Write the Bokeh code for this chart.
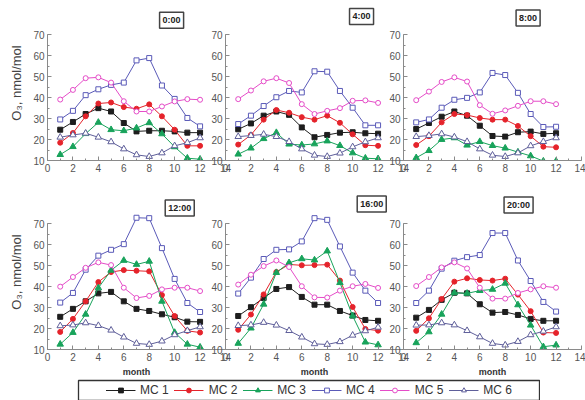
from bokeh.plotting import figure
from bokeh.layouts import row, column
from bokeh.models import Range1d, SingleIntervalTicker, Label, Legend, LegendItem, ColumnDataSource
from bokeh.embed import file_html
from bokeh.resources import INLINE

months = list(range(1, 13))
hours = ["0:00", "4:00", "8:00", "12:00", "16:00", "20:00"]
series_names = ["MC 1", "MC 2", "MC 3", "MC 4", "MC 5", "MC 6"]

# one row per hour panel (0:00, 4:00, 8:00, 12:00, 16:00, 20:00), months 1..12
mc1 = [
    [24.7, 28.4, 32.2, 35.0, 33.4, 27.9, 23.9, 24.2, 24.2, 23.9, 23.3, 23.3],
    [24.9, 27.7, 31.4, 33.4, 31.8, 25.8, 21.1, 22.2, 23.3, 23.5, 23.0, 22.8],
    [25.0, 27.9, 30.9, 33.4, 31.4, 26.6, 21.7, 21.4, 23.5, 23.8, 22.7, 23.0],
    [25.6, 29.4, 33.0, 36.8, 37.5, 33.0, 29.4, 28.4, 26.8, 25.4, 23.3, 23.2],
    [26.0, 30.2, 34.6, 38.9, 39.8, 35.1, 31.4, 31.4, 28.4, 26.2, 24.1, 23.7],
    [25.2, 28.9, 33.7, 37.1, 36.8, 31.6, 27.6, 27.9, 26.5, 24.6, 23.7, 23.7],
]
mc2 = [
    [18.5, 23.1, 31.1, 37.2, 37.7, 35.5, 34.7, 36.8, 31.1, 24.7, 17.0, 17.0],
    [17.6, 22.2, 29.5, 34.1, 32.8, 30.7, 29.5, 31.4, 28.0, 22.5, 17.3, 17.0],
    [17.4, 21.6, 28.2, 32.2, 31.7, 30.3, 29.5, 29.5, 26.5, 21.6, 16.6, 16.3],
    [18.4, 24.6, 33.0, 42.2, 47.0, 47.9, 47.6, 47.3, 36.0, 26.0, 18.9, 18.1],
    [19.4, 26.7, 36.3, 47.0, 50.6, 50.2, 50.3, 50.5, 42.9, 30.3, 19.8, 19.0],
    [18.9, 24.9, 34.1, 42.4, 44.0, 43.2, 42.9, 43.8, 36.2, 28.3, 18.1, 17.9],
]
mc3 = [
    [12.8, 16.6, 22.8, 28.2, 24.7, 24.2, 25.5, 28.0, 22.7, 16.5, 11.1, 10.6],
    [13.0, 15.9, 20.4, 23.3, 17.8, 17.4, 17.9, 19.3, 17.1, 13.6, 11.1, 10.8],
    [11.3, 14.7, 20.0, 20.8, 17.3, 19.0, 17.1, 15.9, 14.0, 12.2, 9.7, 9.7],
    [12.5, 18.1, 26.8, 39.4, 47.8, 52.5, 50.6, 52.1, 33.0, 18.1, 12.5, 11.1],
    [12.9, 20.2, 31.6, 46.7, 51.4, 53.3, 52.7, 57.0, 41.9, 26.0, 13.5, 12.2],
    [13.2, 18.4, 26.8, 37.1, 36.8, 38.1, 38.7, 41.6, 31.3, 21.6, 11.3, 12.1],
]
mc4 = [
    [29.6, 33.7, 41.2, 44.0, 46.1, 47.2, 57.8, 58.9, 45.8, 39.4, 30.3, 26.3],
    [27.4, 31.4, 36.0, 40.2, 43.2, 42.5, 52.6, 52.4, 43.2, 35.2, 26.8, 26.8],
    [28.2, 29.6, 35.2, 39.0, 39.9, 42.5, 51.8, 50.8, 42.3, 32.2, 26.0, 26.1],
    [32.4, 37.0, 48.1, 54.8, 57.6, 60.3, 72.9, 72.7, 58.4, 43.7, 32.2, 27.9],
    [36.7, 44.3, 53.2, 57.6, 57.8, 61.6, 72.7, 71.9, 59.2, 46.7, 38.1, 32.2],
    [32.2, 38.1, 48.6, 52.4, 54.1, 55.1, 65.6, 65.6, 52.5, 42.7, 32.7, 28.1],
]
mc5 = [
    [39.1, 43.7, 49.3, 49.7, 47.2, 38.3, 33.4, 33.4, 35.8, 38.2, 39.3, 39.0],
    [39.3, 43.4, 47.8, 49.3, 47.0, 36.9, 32.2, 33.7, 35.0, 38.5, 38.7, 37.5],
    [38.8, 42.9, 47.5, 49.7, 47.7, 36.4, 32.3, 33.9, 36.1, 38.3, 38.3, 36.9],
    [40.0, 44.6, 49.0, 51.6, 50.3, 39.5, 34.6, 35.6, 38.7, 39.5, 39.5, 37.9],
    [41.0, 45.7, 49.8, 52.5, 49.4, 40.2, 34.9, 34.8, 38.1, 40.2, 41.3, 39.4],
    [40.3, 44.6, 49.2, 51.6, 48.7, 39.5, 34.3, 34.3, 37.0, 38.7, 40.2, 39.5],
]
mc6 = [
    [21.1, 22.2, 23.0, 21.1, 18.9, 15.5, 12.7, 11.9, 13.6, 17.0, 18.5, 20.8],
    [21.4, 21.9, 22.5, 21.4, 19.0, 15.5, 12.5, 11.9, 13.5, 16.5, 18.9, 20.8],
    [21.4, 21.9, 22.7, 21.2, 19.0, 15.5, 12.5, 11.9, 13.6, 17.0, 19.0, 20.8],
    [21.3, 21.7, 22.7, 21.4, 19.2, 15.9, 12.9, 12.4, 14.0, 17.0, 19.0, 20.8],
    [21.4, 21.7, 22.9, 21.6, 19.0, 15.9, 12.7, 12.4, 13.7, 16.8, 18.9, 20.6],
    [21.6, 21.7, 22.7, 21.7, 19.0, 16.0, 12.9, 12.1, 13.8, 17.0, 18.7, 20.8],
]

all_series = [mc1, mc2, mc3, mc4, mc5, mc6]
colors = ["#1e1e1e", "#e5232b", "#18a35b", "#5a5ab8", "#e54cc8", "#5f5f9a"]
markers = ["square", "circle", "triangle", "square", "circle", "triangle"]
fills = [True, True, True, False, False, False]
msizes = [5, 5, 6.5, 5, 5, 6.5]

FONT = "Liberation Sans"
AX = "#8a8a8a"

# title label placement (data coords) for each panel
title_pos = [(9.76, 77.0), (10.7, 78.8), (9.8, 78.0), (10.4, 77.6), (11.5, 79.5), (9.05, 79.0)]

legend_sources = []


def make_panel(k):
    rr, cc = divmod(k, 3)
    left = 47 if cc == 0 else 25
    right = 4 if cc == 2 else 8
    top = 5 if rr == 0 else 11
    bottom = 23 if rr == 0 else 29
    p = figure(frame_width=178, frame_height=155,
               x_range=Range1d(0, 14), y_range=Range1d(10, 84),
               min_border_left=left, min_border_right=right,
               min_border_top=top, min_border_bottom=bottom,
               output_backend="svg", toolbar_location=None, title=None,
               outline_line_color=None, border_fill_color=None,
               background_fill_color=None)
    p.grid.visible = False
    p.xaxis.ticker = SingleIntervalTicker(interval=2, num_minor_ticks=2)
    p.yaxis.ticker = SingleIntervalTicker(interval=10, num_minor_ticks=2)
    p.yaxis.bounds = (10, 70)
    for ax in (p.xaxis[0], p.yaxis[0]):
        ax.axis_line_color = AX
        ax.major_tick_line_color = AX
        ax.minor_tick_line_color = AX
        ax.major_tick_in = 4
        ax.major_tick_out = 0
        ax.minor_tick_in = 2
        ax.minor_tick_out = 0
        ax.major_label_text_color = "#555555"
        ax.major_label_text_font = FONT
        ax.major_label_text_font_size = "10px"
        ax.major_label_standoff = 3
    if cc == 0:
        p.yaxis.axis_label = "O\u2083, nmol/mol"
        p.yaxis.axis_label_text_font = FONT
        p.yaxis.axis_label_text_font_size = "13px"
        p.yaxis.axis_label_text_font_style = "normal"
        p.yaxis.axis_label_text_color = "#444444"
        p.yaxis.axis_label_standoff = 6
    if rr == 1:
        p.xaxis.axis_label = "month"
        p.xaxis.axis_label_text_font = FONT
        p.xaxis.axis_label_text_font_size = "9px"
        p.xaxis.axis_label_text_font_style = "bold"
        p.xaxis.axis_label_text_color = "#333333"
        p.xaxis.axis_label_standoff = 3

    for s, series in enumerate(all_series):
        src = ColumnDataSource(dict(x=months, y=series[k]))
        if k == 0:
            legend_sources.append(src)
        p.line("x", "y", source=src, line_color=colors[s], line_width=1)
        p.scatter("x", "y", source=src, marker=markers[s], size=msizes[s],
                  line_color=colors[s], line_width=1,
                  fill_color=colors[s] if fills[s] else "white")

    tx, ty = title_pos[k]
    p.add_layout(Label(x=tx, y=ty, text=hours[k], text_align="center",
                       text_baseline="middle", text_font=FONT,
                       text_font_size="9px", text_font_style="bold",
                       text_color="#222222", border_line_color="#444444",
                       border_line_width=1.5, background_fill_color="white",
                       padding=3))
    if cc > 0:
        p.margin = (0, 0, 0, -33)
    return p


panels = [make_panel(k) for k in range(6)]
top_row = row(panels[0], panels[1], panels[2])
bottom_row = row(panels[3], panels[4], panels[5])

# legend strip (its renderers reuse the data, placed out of its visible range)
lg = figure(width=463, height=22, x_range=Range1d(100, 101), y_range=Range1d(100, 101),
            min_border_left=1, min_border_right=1, min_border_top=1, min_border_bottom=1,
            output_backend="svg", toolbar_location=None, title=None,
            x_axis_location=None, y_axis_location=None,
            outline_line_color="#333333", outline_line_width=1.3,
            border_fill_color="white", background_fill_color="white")
lg.grid.visible = False
items = []
for s in range(6):
    src = legend_sources[s]
    lr = lg.line("x", "y", source=src, line_color=colors[s], line_width=1)
    sr = lg.scatter("x", "y", source=src, marker=markers[s], size=msizes[s] + 1,
                    line_color=colors[s], line_width=1,
                    fill_color=colors[s] if fills[s] else "white")
    items.append(LegendItem(label=series_names[s], renderers=[lr, sr]))
legend = Legend(items=items, orientation="horizontal", location="center",
                border_line_color=None, background_fill_alpha=0, padding=0,
                spacing=5, glyph_width=30, glyph_height=12, label_standoff=5,
                label_text_font=FONT, label_text_font_size="12px",
                label_text_color="#333333", label_height=12, margin=0)
lg.add_layout(legend, "center")
lg.margin = (0, 0, 0, 77)

layout = column(top_row, bottom_row, lg)
open("out.html", "w").write(file_html(layout, INLINE))
